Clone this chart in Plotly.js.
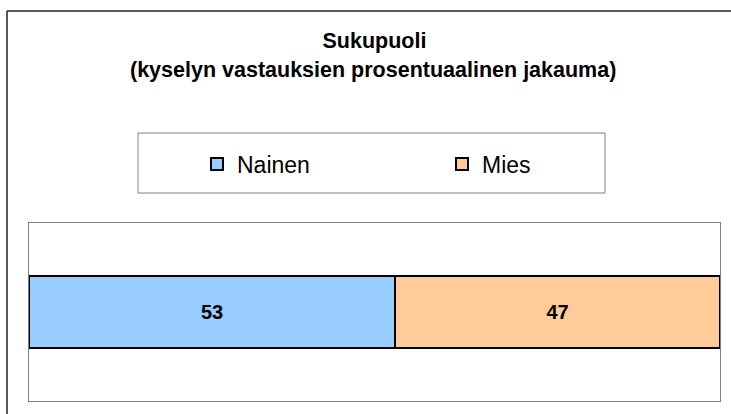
<!DOCTYPE html>
<html>
<head>
<meta charset="utf-8">
<script src="https://cdn.plot.ly/plotly-3.0.1.min.js"></script>
<style>html,body{margin:0;padding:0;background:#fff;}#chart{width:731px;height:414px;}</style>
</head>
<body>
<div id="chart"></div>
<script>
const categories = ['Sukupuoli'];
const seriesNames = ['Nainen', 'Mies'];
const naisetValues = [53];
const miehetValues = [47];
const titleLine1 = 'Sukupuoli';
const titleLine2 = '(kyselyn vastauksien prosentuaalinen jakauma)';

const FONT = 'Liberation Sans, Arial, sans-serif';
const L = 29, R = 720, T = 223, B = 401;
const PW = R - L, PH = B - T;
const px2x = p => (p - L) / PW;
const py2y = p => 1 + (T - p) / PH;

const traces = [
  {type: 'bar', orientation: 'h', name: seriesNames[0], y: categories, x: naisetValues,
   marker: {color: '#99CCFF', line: {color: '#000', width: 2}}, width: 0.4,
   text: naisetValues.map(String), textposition: 'inside', insidetextanchor: 'middle',
   textfont: {family: FONT, size: 20, color: '#000', weight: 'bold'}, hoverinfo: 'none'},
  {type: 'bar', orientation: 'h', name: seriesNames[1], y: categories, x: miehetValues,
   marker: {color: '#FFCC99', line: {color: '#000', width: 2}}, width: 0.4,
   text: miehetValues.map(String), textposition: 'inside', insidetextanchor: 'middle',
   textfont: {family: FONT, size: 20, color: '#000', weight: 'bold'}, hoverinfo: 'none'}
];

const layout = {
  width: 731, height: 414,
  margin: {l: L, r: 731 - R, t: T, b: 414 - B, pad: 0},
  paper_bgcolor: '#fff', plot_bgcolor: '#fff',
  font: {family: FONT, color: '#000'},
  barmode: 'stack',
  showlegend: true,
  title: {text: titleLine1, font: {family: FONT, size: 21.5, weight: 'bold', color: '#000'},
          x: 0.5, xanchor: 'center', xref: 'paper', y: 1 - 40 / 414, yanchor: 'middle', yref: 'container'},
  annotations: [
    {text: titleLine2, xref: 'paper', yref: 'paper', x: px2x(373), y: py2y(70), xanchor: 'center', yanchor: 'middle',
     showarrow: false, font: {family: FONT, size: 21.5, weight: 'bold', color: '#000'}}
  ],
  legend: {orientation: 'h', x: px2x(197), y: py2y(164), xanchor: 'left', yanchor: 'middle',
           bgcolor: 'rgba(0,0,0,0)', borderwidth: 0, entrywidth: 200, entrywidthmode: 'pixels',
           font: {family: FONT, size: 23, color: '#000'}, traceorder: 'normal'},
  xaxis: {range: [0, 100], showticklabels: false, ticks: '', showgrid: false, zeroline: false,
          showline: true, linecolor: '#808080', linewidth: 1, mirror: true, fixedrange: true},
  yaxis: {range: [-0.5, 0.5], showticklabels: false, ticks: '', showgrid: false, zeroline: false,
          showline: true, linecolor: '#808080', linewidth: 1, mirror: true, fixedrange: true},
  shapes: [
    {type: 'rect', xref: 'paper', yref: 'paper', x0: px2x(138), x1: px2x(605), y0: py2y(193), y1: py2y(133),
     line: {color: '#808080', width: 1}, fillcolor: 'rgba(0,0,0,0)', layer: 'below'},
    {type: 'line', xref: 'paper', yref: 'paper', x0: px2x(7), x1: px2x(740), y0: py2y(11), y1: py2y(11),
     line: {color: '#222', width: 1.5}},
    {type: 'line', xref: 'paper', yref: 'paper', x0: px2x(7), x1: px2x(7), y0: py2y(11), y1: py2y(430),
     line: {color: '#222', width: 1.5}}
  ]
};

Plotly.newPlot('chart', traces, layout, {displayModeBar: false, staticPlot: true});
</script>
</body>
</html>
